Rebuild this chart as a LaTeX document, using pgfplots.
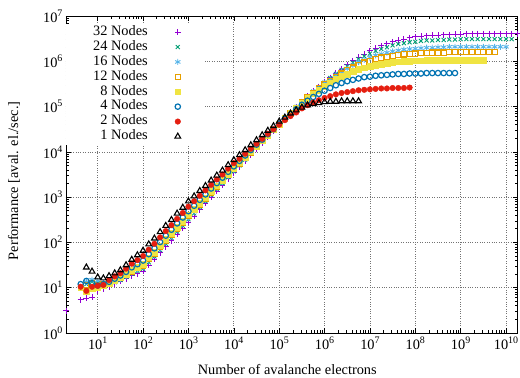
\documentclass[border=0pt]{standalone}
\usepackage{fontspec}
\setmainfont{Liberation Serif}
\usepackage{pgfplots}
\pgfplotsset{compat=1.18}
\definecolor{cA}{HTML}{9400D3}
\definecolor{cB}{HTML}{009E73}
\definecolor{cC}{HTML}{56B4E9}
\definecolor{cD}{HTML}{E69F00}
\definecolor{cE}{HTML}{F0E442}
\definecolor{cF}{HTML}{0072B2}
\definecolor{cG}{HTML}{E51E10}
\newcommand{\ep}[1]{10\raisebox{0.42em}{\fontsize{10}{10}\selectfont #1}}
\newcommand{\bigf}{\fontsize{14.4}{17}\selectfont}
\begin{document}
\begin{tikzpicture}
\useasboundingbox (-66bp,-45bp) rectangle (454bp,333bp);
\begin{axis}[
  at={(0,0)}, anchor=south west,
  scale only axis, width=451.6bp, height=317bp,
  xmode=log, ymode=log,
  xmin=2, xmax=1.8e10, ymin=1, ymax=1e7,
  xtick={1e1,1e2,1e3,1e4,1e5,1e6,1e7,1e8,1e9,1e10},
  xticklabels={\ep{1},\ep{2},\ep{3},\ep{4},\ep{5},\ep{6},\ep{7},\ep{8},\ep{9},\ep{10}},
  ytick={1,1e1,1e2,1e3,1e4,1e5,1e6,1e7},
  yticklabels={\ep{0},\ep{1},\ep{2},\ep{3},\ep{4},\ep{5},\ep{6},\ep{7}},
  tick label style={font=\bigf},
  tick align=inside,
  major tick length=5bp, minor tick length=3bp,
  every tick/.style={black, line width=0.6bp},
  grid=major,
  major grid style={dotted, black!55, line width=0.7bp},
  axis line style={line width=0.8bp},
  xlabel={Number of avalanche electrons},
  ylabel={Performance [aval. el./sec.]},
  label style={font=\bigf},
  xlabel style={at={(axis description cs:0.49,-0.114)}, anchor=center},
  ylabel style={at={(axis description cs:-0.115,0.48)}, anchor=center, rotate=0},
  legend plot pos=right,
  legend cell align=right,
  legend style={draw=none, fill=white, at={(0,1)}, anchor=north west, yshift=-7.5bp,
    font=\bigf, inner xsep=24bp, inner ysep=1bp, row sep=0pt, column sep=24bp,
    nodes={text height=9.8bp, text depth=3.1bp, inner ysep=1bp, inner xsep=3bp}},
]
\addplot[only marks, mark=+, color=cA, mark size=3bp, mark options={line width=0.9bp}] table {
2.0 3.09
4.217e0 5.37
5.623e0 5.89
7.499e0 6.17
1e1 8.51
1.334e1 9.55
1.778e1 10.5
2.371e1 12.3
3.162e1 13.8
4.217e1 15.8
5.623e1 18.2
7.499e1 20.4
1e2 22.9
1.334e2 31.6
1.778e2 42.7
2.371e2 58.9
3.162e2 81.3
4.217e2 110
5.623e2 151
7.499e2 204
1e3 282
1.334e3 380
1.778e3 525
2.371e3 724
3.162e3 1000
4.217e3 1349
5.623e3 1820
7.499e3 2570
1e4 3467
1.334e4 4677
1.778e4 6310
2.371e4 8511
3.162e4 11750
4.217e4 15850
5.623e4 21380
7.499e4 28840
1e5 38900
1.334e5 52480
1.778e5 70790
2.371e5 95500
3.162e5 128800
4.217e5 169800
5.623e5 218800
7.499e5 275400
1e6 346700
1.334e6 436500
1.778e6 549500
2.371e6 676100
3.162e6 831800
4.217e6 1023000
5.623e6 1230000
7.499e6 1445000
1e7 1698000
1.334e7 1950000
1.778e7 2188000
2.371e7 2455000
3.162e7 2692000
4.217e7 2884000
5.623e7 3090000
7.499e7 3311000
1e8 3467000
1.334e8 3548000
1.778e8 3631000
2.371e8 3715000
3.162e8 3802000
4.217e8 3890000
5.623e8 3890000
7.499e8 3981000
1e9 3981000
1.334e9 4074000
1.778e9 4074000
2.371e9 4074000
3.162e9 4074000
4.217e9 4074000
5.623e9 4074000
7.499e9 4074000
1e10 4074000
1.334e10 4074000
1.778e10 4074000
};
\addlegendentry{32 Nodes}
\addplot[only marks, mark=x, color=cB, mark size=2.8bp, mark options={line width=0.9bp}] table {
5.623e0 12.0
7.499e0 13.5
1e1 12.6
1.334e1 11.2
1.778e1 12.0
2.371e1 13.2
3.162e1 14.8
4.217e1 17.4
5.623e1 20.4
7.499e1 23.4
1e2 26.3
1.334e2 36.3
1.778e2 49.0
2.371e2 67.6
3.162e2 93.3
4.217e2 126
5.623e2 174
7.499e2 234
1e3 324
1.334e3 437
1.778e3 603
2.371e3 813
3.162e3 1122
4.217e3 1514
5.623e3 2042
7.499e3 2754
1e4 3715
1.334e4 5012
1.778e4 6761
2.371e4 9120
3.162e4 12300
4.217e4 16600
5.623e4 22390
7.499e4 30200
1e5 39810
1.334e5 53700
1.778e5 72440
2.371e5 97720
3.162e5 128800
4.217e5 169800
5.623e5 213800
7.499e5 269200
1e6 338800
1.334e6 426600
1.778e6 524800
2.371e6 645700
3.162e6 776200
4.217e6 933300
5.623e6 1122000
7.499e6 1288000
1e7 1479000
1.334e7 1698000
1.778e7 1862000
2.371e7 2042000
3.162e7 2239000
4.217e7 2399000
5.623e7 2512000
7.499e7 2630000
1e8 2692000
1.334e8 2818000
1.778e8 2884000
2.371e8 2884000
3.162e8 2951000
4.217e8 2951000
5.623e8 3020000
7.499e8 3020000
1e9 3090000
1.334e9 3090000
1.778e9 3090000
2.371e9 3090000
3.162e9 3090000
4.217e9 3090000
5.623e9 3090000
7.499e9 3090000
1e10 3090000
1.334e10 3090000
};
\addlegendentry{24 Nodes}
\addplot[only marks, mark=asterisk, color=cC, mark size=3bp, mark options={line width=0.9bp}] table {
5.623e0 13.5
7.499e0 15.1
1e1 14.1
1.334e1 12.6
1.778e1 13.2
2.371e1 14.1
3.162e1 15.5
4.217e1 18.2
5.623e1 21.9
7.499e1 25.1
1e2 28.8
1.334e2 39.8
1.778e2 53.7
2.371e2 74.1
3.162e2 102
4.217e2 138
5.623e2 191
7.499e2 257
1e3 355
1.334e3 479
1.778e3 661
2.371e3 871
3.162e3 1202
4.217e3 1622
5.623e3 2138
7.499e3 2951
1e4 3981
1.334e4 5370
1.778e4 7079
2.371e4 9550
3.162e4 12880
4.217e4 17380
5.623e4 22910
7.499e4 30200
1e5 40740
1.334e5 53700
1.778e5 72440
2.371e5 95500
3.162e5 125900
4.217e5 162200
5.623e5 208900
7.499e5 257000
1e6 323600
1.334e6 398100
1.778e6 489800
2.371e6 588800
3.162e6 691800
4.217e6 812800
5.623e6 955000
7.499e6 1072000
1e7 1202000
1.334e7 1349000
1.778e7 1445000
2.371e7 1549000
3.162e7 1660000
4.217e7 1738000
5.623e7 1820000
7.499e7 1862000
1e8 1905000
1.334e8 1950000
1.778e8 1995000
2.371e8 1995000
3.162e8 2042000
4.217e8 2042000
5.623e8 2089000
7.499e8 2089000
1e9 2089000
1.334e9 2089000
1.778e9 2089000
2.371e9 2089000
3.162e9 2089000
4.217e9 2089000
5.623e9 2089000
7.499e9 2089000
1e10 2089000
};
\addlegendentry{16 Nodes}
\addplot[only marks, mark=square, color=cD, mark size=2.6bp, mark options={line width=1.2bp}] table {
5.623e0 11.2
7.499e0 12.6
1e1 11.5
1.334e1 12.0
1.778e1 13.2
2.371e1 14.8
3.162e1 16.2
4.217e1 19.1
5.623e1 22.9
7.499e1 26.9
1e2 30.9
1.334e2 42.7
1.778e2 57.5
2.371e2 79.4
3.162e2 110
4.217e2 148
5.623e2 204
7.499e2 275
1e3 380
1.334e3 513
1.778e3 692
2.371e3 933
3.162e3 1259
4.217e3 1698
5.623e3 2291
7.499e3 3090
1e4 4169
1.334e4 5495
1.778e4 7413
2.371e4 9772
3.162e4 13180
4.217e4 17380
5.623e4 22910
7.499e4 30900
1e5 40740
1.334e5 54950
1.778e5 72440
2.371e5 93300
3.162e5 123000
4.217e5 158500
5.623e5 199500
7.499e5 251200
1e6 309000
1.334e6 371500
1.778e6 446700
2.371e6 537000
3.162e6 631000
4.217e6 724400
5.623e6 831800
7.499e6 933300
1e7 1023000
1.334e7 1122000
1.778e7 1202000
2.371e7 1259000
3.162e7 1318000
4.217e7 1380000
5.623e7 1413000
7.499e7 1445000
1e8 1479000
1.334e8 1514000
1.778e8 1514000
2.371e8 1549000
3.162e8 1549000
4.217e8 1549000
5.623e8 1585000
7.499e8 1585000
1e9 1585000
1.334e9 1585000
1.778e9 1585000
2.371e9 1585000
3.162e9 1585000
4.217e9 1585000
5.623e9 1585000
};
\addlegendentry{12 Nodes}
\addplot[only marks, mark=square*, color=cE, mark size=2.8bp] table {
4.217e0 10.0
5.623e0 8.13
7.499e0 9.55
1e1 10.0
1.334e1 11.0
1.778e1 12.6
2.371e1 14.5
3.162e1 17.0
4.217e1 20.0
5.623e1 24.5
7.499e1 28.2
1e2 33.1
1.334e2 45.7
1.778e2 61.7
2.371e2 85.1
3.162e2 117
4.217e2 158
5.623e2 219
7.499e2 295
1e3 407
1.334e3 537
1.778e3 741
2.371e3 977
3.162e3 1349
4.217e3 1778
5.623e3 2399
7.499e3 3236
1e4 4365
1.334e4 5754
1.778e4 7586
2.371e4 10230
3.162e4 13490
4.217e4 17780
5.623e4 23440
7.499e4 31620
1e5 40740
1.334e5 54950
1.778e5 70790
2.371e5 91200
3.162e5 120200
4.217e5 151400
5.623e5 190500
7.499e5 229100
1e6 281800
1.334e6 338800
1.778e6 398100
2.371e6 467700
3.162e6 524800
4.217e6 602600
5.623e6 660700
7.499e6 724400
1e7 776200
1.334e7 831800
1.778e7 871000
2.371e7 912000
3.162e7 955000
4.217e7 977200
5.623e7 1000000
7.499e7 1000000
1e8 1023000
1.334e8 1023000
1.778e8 1047000
2.371e8 1047000
3.162e8 1047000
4.217e8 1047000
5.623e8 1047000
7.499e8 1072000
1e9 1072000
1.334e9 1072000
1.778e9 1072000
2.371e9 1072000
3.162e9 1072000
};
\addlegendentry{8 Nodes}
\addplot[only marks, mark=o, color=cF, mark size=2.7bp, mark options={line width=1.2bp}] table {
4.217e0 12.0
5.623e0 14.1
7.499e0 12.6
1e1 11.2
1.334e1 12.0
1.778e1 13.5
2.371e1 15.8
3.162e1 18.6
4.217e1 22.4
5.623e1 28.2
7.499e1 33.1
1e2 39.8
1.334e2 55.0
1.778e2 74.1
2.371e2 102
3.162e2 141
4.217e2 191
5.623e2 263
7.499e2 355
1e3 490
1.334e3 646
1.778e3 871
2.371e3 1148
3.162e3 1549
4.217e3 2042
5.623e3 2692
7.499e3 3631
1e4 4786
1.334e4 6310
1.778e4 8318
2.371e4 10960
3.162e4 14450
4.217e4 18620
5.623e4 24550
7.499e4 31620
1e5 41690
1.334e5 53700
1.778e5 67610
2.371e5 87100
3.162e5 109600
4.217e5 134900
5.623e5 162200
7.499e5 190500
1e6 223900
1.334e6 257000
1.778e6 295100
2.371e6 331100
3.162e6 363100
4.217e6 389000
5.623e6 416900
7.499e6 446700
1e7 457100
1.334e7 478600
1.778e7 489800
2.371e7 501200
3.162e7 512900
4.217e7 524800
5.623e7 524800
7.499e7 537000
1e8 537000
1.334e8 537000
1.778e8 549500
2.371e8 549500
3.162e8 549500
4.217e8 549500
5.623e8 549500
7.499e8 549500
};
\addlegendentry{4 Nodes}
\addplot[only marks, mark=*, color=cG, mark size=2.8bp] table {
4.217e0 10.5
5.623e0 8.51
7.499e0 10.5
1e1 11.0
1.334e1 11.5
1.778e1 14.8
2.371e1 17.8
3.162e1 20.9
4.217e1 26.3
5.623e1 33.9
7.499e1 40.7
1e2 50.1
1.334e2 69.2
1.778e2 93.3
2.371e2 129
3.162e2 178
4.217e2 240
5.623e2 331
7.499e2 447
1e3 617
1.334e3 813
1.778e3 1072
2.371e3 1413
3.162e3 1862
4.217e3 2455
5.623e3 3162
7.499e3 4266
1e4 5623
1.334e4 7079
1.778e4 9120
2.371e4 11750
3.162e4 15140
4.217e4 19500
5.623e4 25120
7.499e4 31620
1e5 39810
1.334e5 50120
1.778e5 61660
2.371e5 74130
3.162e5 91200
4.217e5 107200
5.623e5 123000
7.499e5 138000
1e6 154900
1.334e6 169800
1.778e6 186200
2.371e6 199500
3.162e6 208900
4.217e6 218800
5.623e6 229100
7.499e6 234400
1e7 239900
1.334e7 245500
1.778e7 251200
2.371e7 251200
3.162e7 257000
4.217e7 257000
5.623e7 257000
7.499e7 263000
};
\addlegendentry{2 Nodes}
\addplot[only marks, mark=triangle, color=black, mark size=3.3bp, mark options={line width=1.1bp}] table {
5.623e0 28.2
7.499e0 22.9
1e1 17.0
1.334e1 16.2
1.778e1 18.2
2.371e1 20.9
3.162e1 24.5
4.217e1 31.6
5.623e1 41.7
7.499e1 52.5
1e2 66.1
1.334e2 91.2
1.778e2 123
2.371e2 170
3.162e2 234
4.217e2 316
5.623e2 437
7.499e2 589
1e3 813
1.334e3 1047
1.778e3 1380
2.371e3 1778
3.162e3 2344
4.217e3 3020
5.623e3 3890
7.499e3 5129
1e4 6607
1.334e4 8511
1.778e4 10960
2.371e4 14130
3.162e4 18200
4.217e4 23440
5.623e4 29510
7.499e4 37150
1e5 46770
1.334e5 57540
1.778e5 70790
2.371e5 83180
3.162e5 95500
4.217e5 107200
5.623e5 114800
7.499e5 120200
1e6 125900
1.334e6 128800
1.778e6 128800
2.371e6 131800
3.162e6 131800
4.217e6 131800
5.623e6 131800
};
\addlegendentry{1 Nodes}
\end{axis}
\end{tikzpicture}
\end{document}
